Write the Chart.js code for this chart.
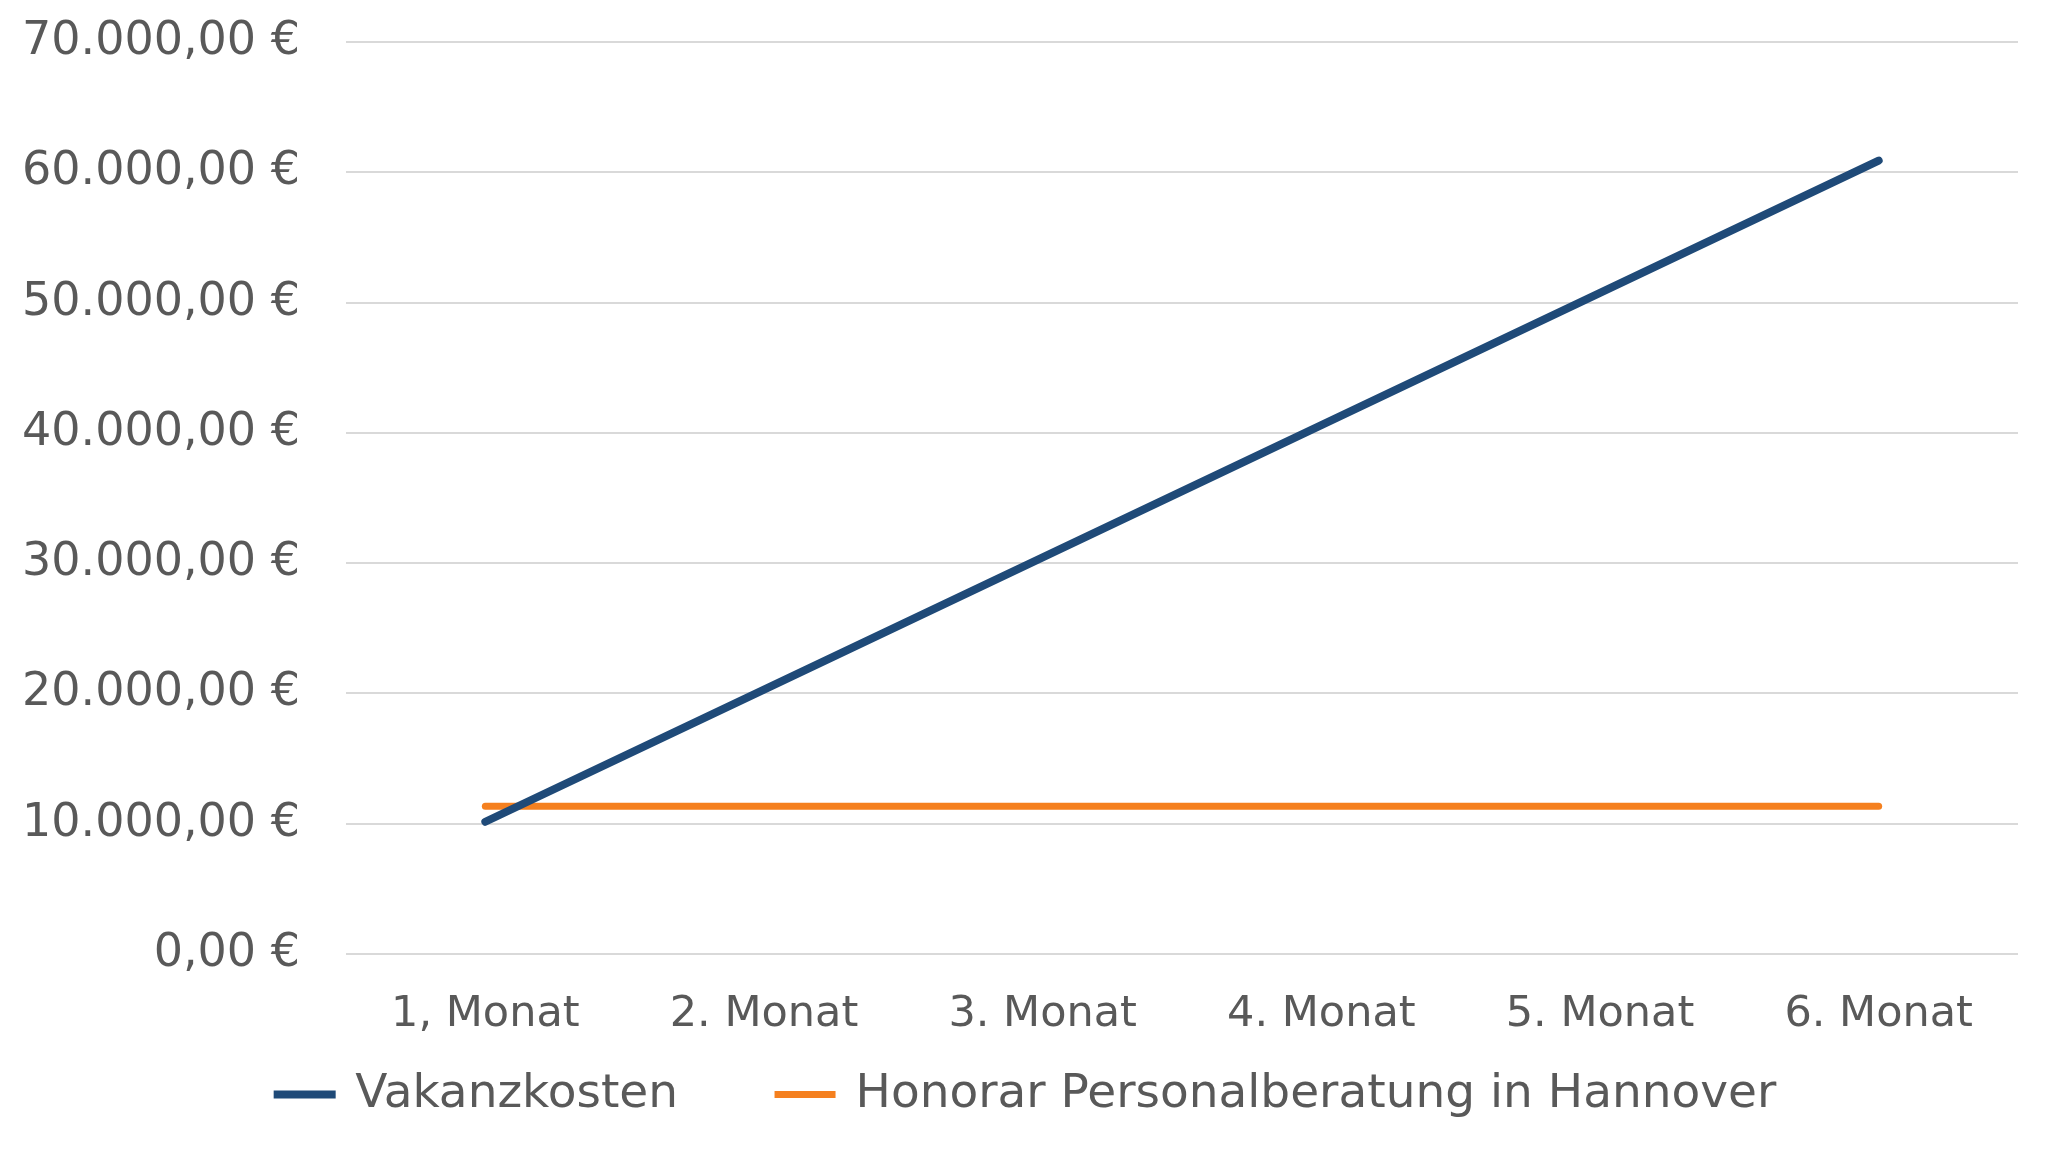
<!DOCTYPE html>
<html><head><meta charset="utf-8">
<script src="https://cdn.jsdelivr.net/npm/chart.js@4/dist/chart.umd.min.js"></script>
<style>html,body{margin:0;padding:0;background:#fff}#wrap{width:2048px;height:1152px}</style>
</head><body><div id="wrap"><canvas id="c" width="2048" height="1152"></canvas></div>
<script>
const categories = ["1, Monat","2. Monat","3. Monat","4. Monat","5. Monat","6. Monat"];
const vakanzkosten = [10150, 20300, 30450, 40600, 50750, 60900];
const honorar = [11350, 11350, 11350, 11350, 11350, 11350];
const seriesNames = ["Vakanzkosten","Honorar Personalberatung in Hannover"];
const yTicks = [0,10000,20000,30000,40000,50000,60000,70000];

const FONT = "'DejaVu Sans', sans-serif";
const fmt = v => v.toLocaleString('de-DE',{minimumFractionDigits:2,maximumFractionDigits:2}) + " €";
const PAD_LEFT = 36;

new Chart(document.getElementById('c'), {
  type: 'line',
  data: {
    labels: categories,
    datasets: [
      {label: seriesNames[0], data: vakanzkosten, borderColor:'#1F4A78', backgroundColor:'#1F4A78', borderWidth:8, pointRadius:0, borderCapStyle:'round', tension:0},
      {label: seriesNames[1], data: honorar, borderColor:'#F5801F', backgroundColor:'#F5801F', borderWidth:7, pointRadius:0, borderCapStyle:'round', tension:0}
    ]
  },
  options: {
    responsive:false, animation:false,
    layout:{padding:{left:PAD_LEFT,right:30,top:0,bottom:24}},
    plugins:{
      tooltip:{enabled:false},
      legend:{position:'bottom', labels:{font:{family:FONT,size:47}, color:'#595959', boxWidth:54, boxHeight:0.001, padding:100}}
    },
    scales:{
      x:{offset:true, grid:{display:false, drawTicks:false}, border:{display:false},
         afterFit: s => { s.height = 17; s._computeLabelArea = () => null; },
         ticks:{font:{family:FONT,size:43}, color:'#595959', padding:35}},
      y:{min:0,max:70000, afterBuildTicks: s => { s.ticks = yTicks.map(v=>({value:v})); },
         afterFit: s => { s.width = 346 - PAD_LEFT; s._computeLabelArea = () => null; },
         grid:{color:'#D9D9D9', lineWidth:2, drawTicks:true, tickLength:46, tickColor:'rgba(0,0,0,0)'}, border:{display:false},
         ticks:{font:{family:FONT,size:46,lineHeight:1.826}, color:'#595959', padding:0, callback: v => fmt(v)}}
    }
  }
});
</script></body></html>
